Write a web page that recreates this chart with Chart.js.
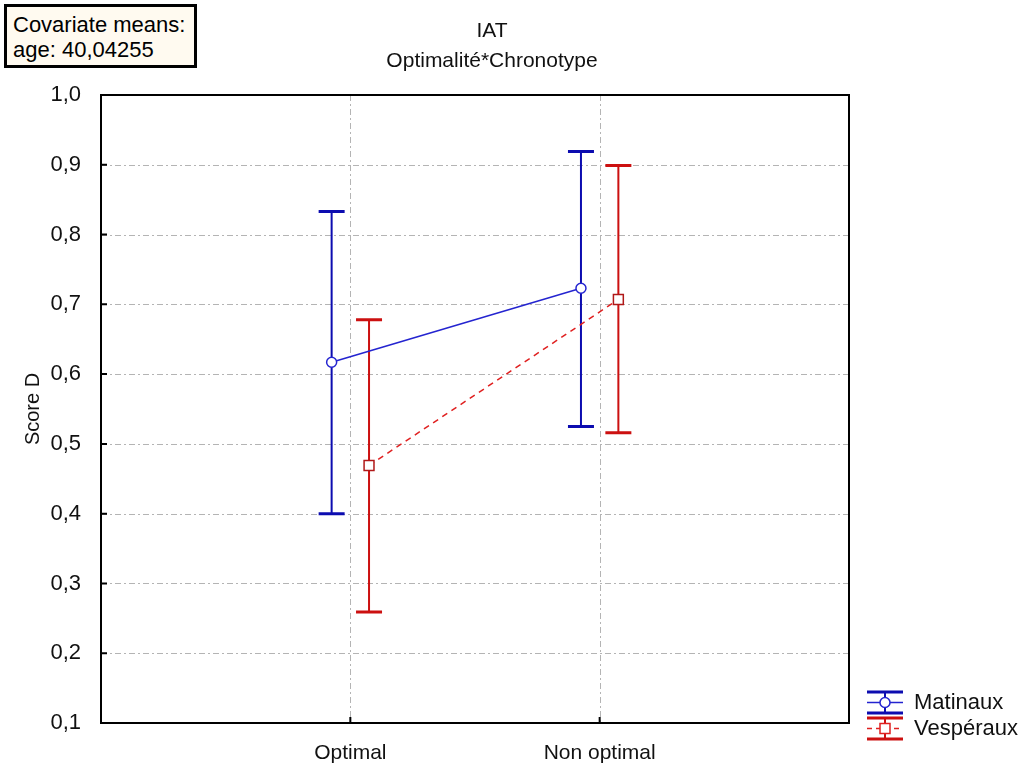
<!DOCTYPE html>
<html>
<head>
<meta charset="utf-8">
<title>IAT - Optimalité*Chronotype</title>
<script src="https://cdn.jsdelivr.net/npm/chart.js@4"></script>
<style>
  body { margin: 0; background: #fff; }
  #wrap { position: relative; width: 1035px; height: 764px; }
  #cov {
    position: absolute; left: 4px; top: 4px;
    width: 181px; height: 53px;
    padding: 5px 0 0 6px;
    border: 3px solid #000;
    background: #fffaf0;
    font: 22px "Liberation Sans", Arial, sans-serif;
    line-height: 25px;
    color: #000;
  }
</style>
</head>
<body>
<div id="wrap">
  <canvas id="chart" width="1035" height="764"></canvas>
  <div id="cov">Covariate means:<br>age: 40,04255</div>
</div>
<script>
// Données
const categories = ["Optimal", "Non optimal"];
const yTicks = [0.1, 0.2, 0.3, 0.4, 0.5, 0.6, 0.7, 0.8, 0.9, 1.0];

const matinauxMeans = [0.617, 0.723];
const matinauxLow = [0.400, 0.525];
const matinauxHigh = [0.833, 0.919];

const vesperauxMeans = [0.469, 0.707];
const vesperauxLow = [0.259, 0.516];
const vesperauxHigh = [0.678, 0.899];

const FONT = '"Liberation Sans", Arial, sans-serif';
const BLUE = "#2424d0";
const BLUE_BAR = "#0c0cb0";
const RED = "#e02020";
const RED_BAR = "#cc1010";
const SHIFT = 0.075;

function toPoints(means, shift) {
  return means.map((v, i) => ({ x: i + 1 + shift, y: v }));
}

function fmt(v) {
  return v.toFixed(1).replace(".", ",");
}

// Grille, cadre et barres d'erreur
const framePlugin = {
  id: "frame",
  beforeDatasetsDraw(chart) {
    const { ctx, chartArea: a, scales: { x, y } } = chart;
    ctx.save();
    ctx.strokeStyle = "#b4b4b4";
    ctx.lineWidth = 1;
    ctx.setLineDash([6, 3, 2, 3]);
    yTicks.slice(1, -1).forEach((t) => {
      const py = Math.round(y.getPixelForValue(t)) + 0.5;
      ctx.beginPath(); ctx.moveTo(a.left, py); ctx.lineTo(a.right, py); ctx.stroke();
    });
    categories.forEach((c, i) => {
      const px = Math.round(x.getPixelForValue(i + 1)) + 0.5;
      ctx.beginPath(); ctx.moveTo(px, a.top); ctx.lineTo(px, a.bottom); ctx.stroke();
    });
    ctx.setLineDash([]);

    // barres d'erreur
    chart.data.datasets.forEach((ds, di) => {
      const meta = chart.getDatasetMeta(di);
      meta.data.forEach((el, j) => {
        const px = el.x;
        const yl = y.getPixelForValue(ds.errLow[j]);
        const yh = y.getPixelForValue(ds.errHigh[j]);
        ctx.strokeStyle = ds.barColor;
        ctx.lineWidth = 2;
        ctx.beginPath(); ctx.moveTo(px, yl); ctx.lineTo(px, yh); ctx.stroke();
        ctx.lineWidth = 3;
        ctx.beginPath();
        ctx.moveTo(px - 13, yh); ctx.lineTo(px + 13, yh);
        ctx.moveTo(px - 13, yl); ctx.lineTo(px + 13, yl);
        ctx.stroke();
      });
    });
    ctx.restore();
  },
  afterDraw(chart) {
    const { ctx, chartArea: a, scales: { x, y } } = chart;
    ctx.save();
    // cadre
    ctx.strokeStyle = "#000";
    ctx.lineWidth = 2;
    ctx.strokeRect(a.left, a.top, a.right - a.left, a.bottom - a.top);
    // graduations internes
    ctx.lineWidth = 2;
    ctx.beginPath();
    yTicks.forEach((t) => {
      const py = y.getPixelForValue(t);
      ctx.moveTo(a.left, py); ctx.lineTo(a.left + 6, py);
    });
    categories.forEach((c, i) => {
      const px = x.getPixelForValue(i + 1);
      ctx.moveTo(px, a.bottom); ctx.lineTo(px, a.bottom - 6);
    });
    ctx.stroke();

    // titres
    ctx.fillStyle = "#111";
    ctx.font = "21px " + FONT;
    ctx.textAlign = "center";
    ctx.textBaseline = "middle";
    ctx.fillText("IAT", 492, 31);
    ctx.fillText("Optimalité*Chronotype", 492, 61);

    // légende
    drawLegendItem(ctx, 867, 692, BLUE_BAR, BLUE, [], "circle", "Matinaux");
    drawLegendItem(ctx, 867, 718, RED_BAR, RED, [5, 4], "rect", "Vespéraux");
    ctx.restore();
  }
};

function drawLegendItem(ctx, x0, top, barColor, lineColor, dash, shape, label) {
  const w = 36, h = 21, cx = x0 + w / 2, cy = top + h / 2;
  ctx.strokeStyle = barColor;
  ctx.lineWidth = 3;
  ctx.setLineDash([]);
  ctx.beginPath();
  ctx.moveTo(x0, top); ctx.lineTo(x0 + w, top);
  ctx.moveTo(x0, top + h); ctx.lineTo(x0 + w, top + h);
  ctx.stroke();
  ctx.lineWidth = 2;
  ctx.beginPath(); ctx.moveTo(cx, top); ctx.lineTo(cx, top + h); ctx.stroke();
  ctx.strokeStyle = lineColor;
  ctx.lineWidth = 1.5;
  ctx.setLineDash(dash);
  ctx.beginPath(); ctx.moveTo(x0, cy); ctx.lineTo(x0 + w, cy); ctx.stroke();
  ctx.setLineDash([]);
  ctx.fillStyle = "#fff";
  ctx.beginPath();
  if (shape === "circle") ctx.arc(cx, cy, 5, 0, Math.PI * 2);
  else ctx.rect(cx - 5, cy - 5, 10, 10);
  ctx.fill(); ctx.stroke();
  ctx.fillStyle = "#111";
  ctx.font = "22px " + FONT;
  ctx.textAlign = "left";
  ctx.textBaseline = "middle";
  ctx.fillText(label, x0 + 47, cy);
}

new Chart(document.getElementById("chart"), {
  type: "line",
  data: {
    datasets: [
      {
        label: "Matinaux",
        data: toPoints(matinauxMeans, -SHIFT),
        errLow: matinauxLow,
        errHigh: matinauxHigh,
        barColor: BLUE_BAR,
        borderColor: BLUE,
        borderWidth: 1.5,
        pointStyle: "circle",
        pointRadius: 5,
        pointBackgroundColor: "#fff",
        pointBorderColor: BLUE,
        pointBorderWidth: 1.5,
        tension: 0
      },
      {
        label: "Vespéraux",
        data: toPoints(vesperauxMeans, SHIFT),
        errLow: vesperauxLow,
        errHigh: vesperauxHigh,
        barColor: RED_BAR,
        borderColor: RED,
        borderWidth: 1.5,
        borderDash: [6, 5],
        pointStyle: "rect",
        pointRadius: 7,
        pointBackgroundColor: "#fff",
        pointBorderColor: "#b01818",
        pointBorderWidth: 1.5,
        tension: 0
      }
    ]
  },
  options: {
    responsive: false,
    animation: false,
    layout: { padding: { top: 95, right: 186, left: 0, bottom: 0 } },
    plugins: {
      legend: { display: false },
      title: { display: false },
      tooltip: { enabled: false }
    },
    scales: {
      x: {
        type: "linear",
        min: 0,
        max: 3,
        grid: { display: false },
        border: { display: false },
        afterBuildTicks(s) { s.ticks = categories.map((c, i) => ({ value: i + 1 })); },
        afterFit(s) { s.height = 41; },
        ticks: {
          padding: 10,
          color: "#111",
          font: { family: FONT, size: 21 },
          maxRotation: 0,
          autoSkip: false,
          callback: (v) => categories[v - 1]
        }
      },
      y: {
        min: 0.1,
        max: 1.0,
        grid: { display: false },
        border: { display: false },
        afterBuildTicks(s) { s.ticks = yTicks.map((v) => ({ value: v })); },
        afterFit(s) { s.width = 101; },
        ticks: {
          padding: 12,
          color: "#111",
          font: { family: FONT, size: 22 },
          callback: (v) => fmt(v)
        },
        title: {
          display: true,
          text: "Score D",
          color: "#111",
          font: { family: FONT, size: 20 },
          padding: { top: 21, bottom: 0 }
        }
      }
    }
  },
  plugins: [framePlugin]
});
</script>
</body>
</html>
